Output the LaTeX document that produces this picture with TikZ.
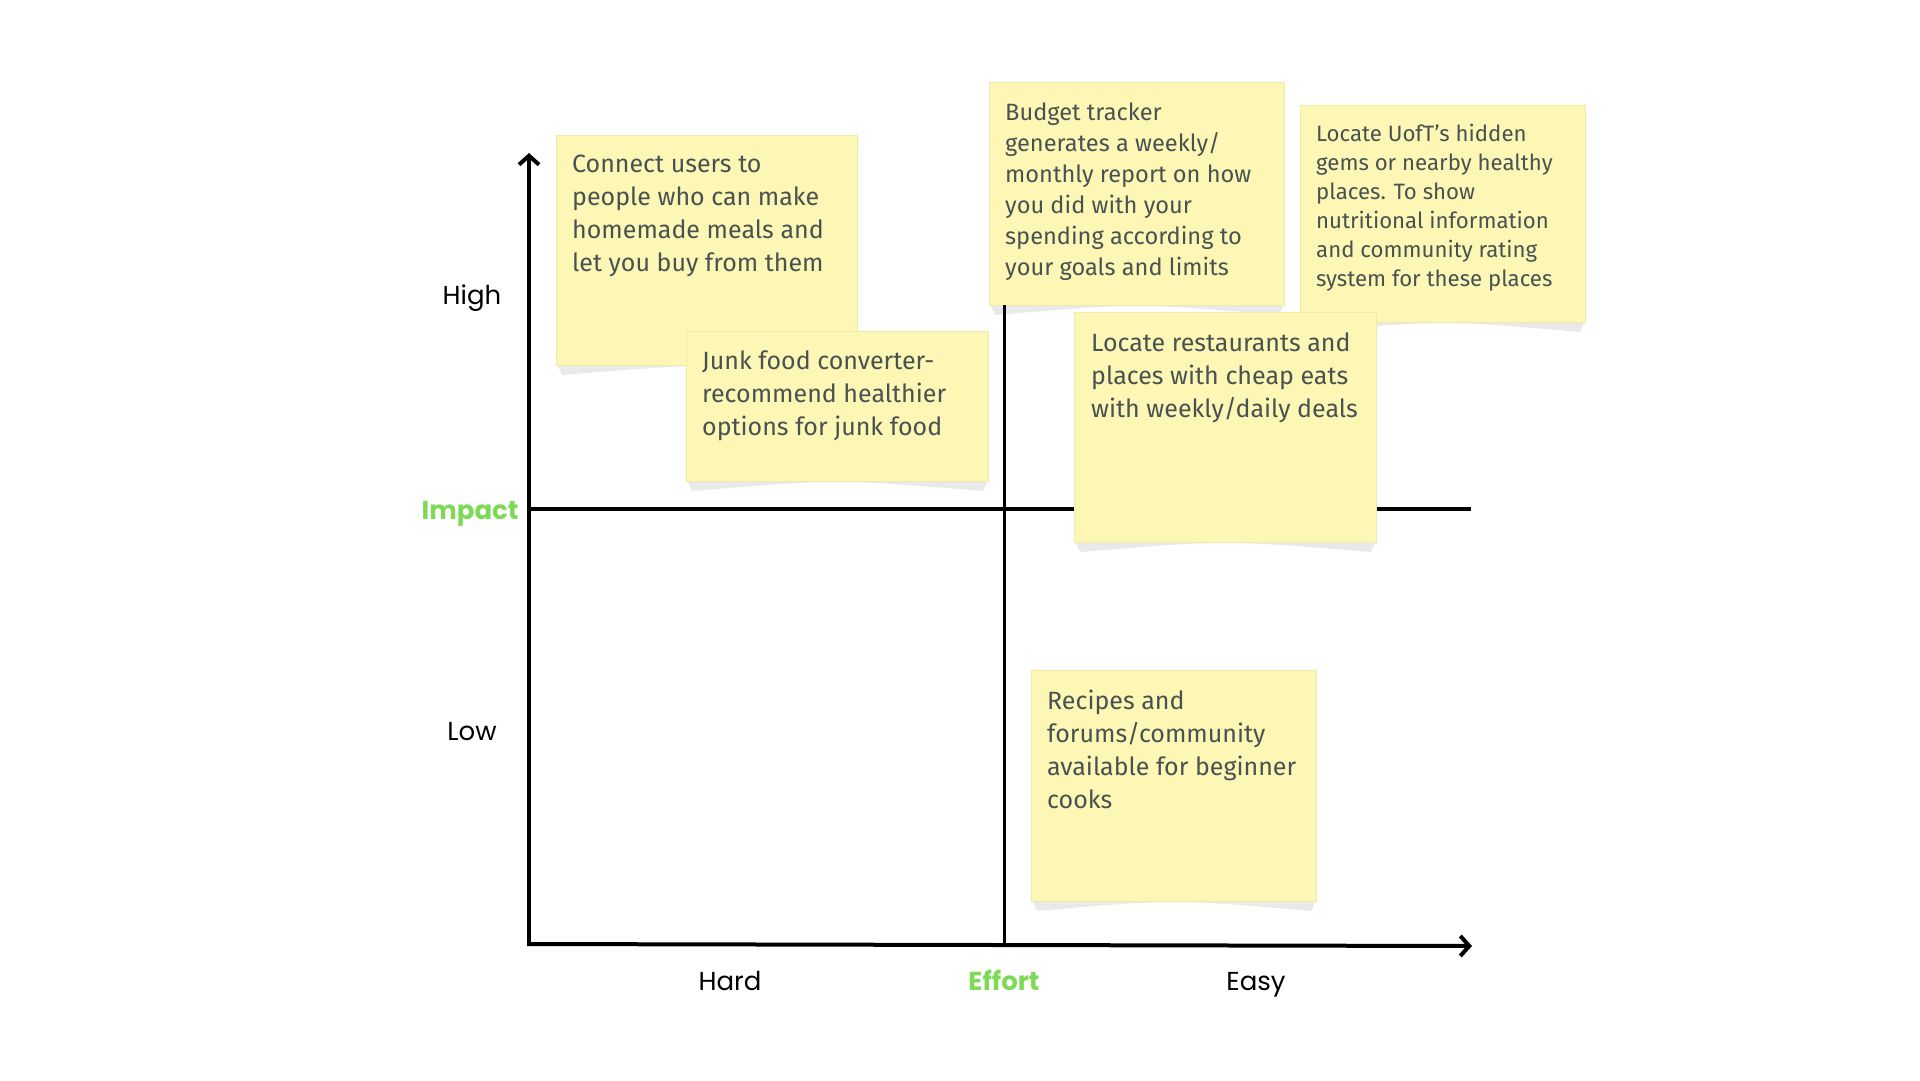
\documentclass[tikz,border=0pt]{standalone}
\usepackage{fontspec}
\setmainfont{Fira Sans}
\newfontfamily\axisfont{Poppins}
\usetikzlibrary{arrows.meta,positioning}

\definecolor{notefill}{HTML}{FCF7B5}
\definecolor{noteedge}{HTML}{F1EAA8}
\definecolor{notetext}{HTML}{4A5151}
\definecolor{effortgreen}{HTML}{7ED957}
\definecolor{curlshade}{HTML}{E9E9E9}

\tikzset{
  sticky/.style={fill=notefill, draw=noteedge, line width=1pt, anchor=north west, inner sep=0pt},
  stickytext/.style={inner sep=0pt, text=notetext, align=left, font=\fontsize{25}{33}\selectfont},
  smalltext/.style={stickytext, font=\fontsize{23.6}{31}\selectfont},
  tinytext/.style={stickytext, font=\fontsize{22.2}{29}\selectfont},
  axisline/.style={line width=4pt},
  axislabel/.style={anchor=base, font=\axisfont\fontsize{26}{30}\selectfont},
  axisname/.style={anchor=base, font=\axisfont\bfseries\fontsize{26}{30}\selectfont, text=effortgreen},
}

% curled shadow under a note
\newcommand\notecurl[1]{%
  \fill[curlshade] ([xshift=2pt]#1.south west) -- ([xshift=-2pt]#1.south east)
    -- ([xshift=-6pt,yshift=-9pt]#1.south east)
    .. controls ([yshift=3pt]#1.south) .. ([xshift=6pt,yshift=-9pt]#1.south west) -- cycle;}

\begin{document}
\begin{tikzpicture}[x=1pt, y=-1pt]
  \useasboundingbox (0,0) rectangle (1920,1080);

  % axes
  \coordinate (origin) at (529,944);
  \coordinate (ytip) at (529,153);
  \coordinate (xtip) at (1472,946);
  \coordinate (impleft) at (529,509);
  \coordinate (impright) at (1471,509);
  \coordinate (efftop) at (1004,305);
  \coordinate (effbottom) at (1004,944);

  \draw[axisline] (impleft) -- (impright);
  \draw[axisline, -{Straight Barb[length=9pt, width=20pt]}] ([yshift=2pt]origin) -- (ytip);
  \draw[axisline, -{Straight Barb[length=9pt, width=20pt]}] ([xshift=-2pt]origin) -- (xtip);

  % labels
  \node[axislabel] (high) at (472,304) {High};
  \node[axislabel] (low) at (472,740) {Low};
  \node[axisname, anchor=base east] (impact) at (522,519) {Impact};
  \node[axislabel] (hard) at (730,990) {Hard};
  \node[axisname] (effort) at (1004,990) {Effort};
  \node[axislabel] (easy) at (1256,990) {Easy};

  % sticky notes
  \node[sticky, minimum width=301pt, minimum height=230pt] (connect) at (556,135) {};
  \notecurl{connect}
  \node[stickytext, below right=20pt and 16pt of connect.north west] (connecttxt)
    {Connect users to\\people who can make\\homemade meals and\\let you buy from them};

  \node[sticky, minimum width=302pt, minimum height=150pt] (junk) at (686,331) {};
  \notecurl{junk}
  \node[stickytext, below right=20pt and 16pt of junk.north west] (junktxt)
    {Junk food converter-\\recommend healthier\\options for junk food};

  \node[sticky, minimum width=295pt, minimum height=223pt] (budget) at (989,82) {};
  \notecurl{budget}
  \node[smalltext, below right=21pt and 16pt of budget.north west] (budgettxt)
    {Budget tracker\\generates a weekly/\\monthly report on how\\you did with your\\spending according to\\your goals and limits};
  \draw[line width=3pt] (efftop) -- (effbottom);

  \node[sticky, minimum width=285pt, minimum height=217pt] (uoft) at (1300,105) {};
  \notecurl{uoft}
  \node[tinytext, below right=19pt and 16pt of uoft.north west] (uofttxt)
    {Locate UofT’s hidden\\gems or nearby healthy\\places. To show\\nutritional information\\and community rating\\system for these places};

  \node[sticky, minimum width=302pt, minimum height=230pt] (cheap) at (1074,312) {};
  \notecurl{cheap}
  \node[stickytext, below right=21pt and 17pt of cheap.north west] (cheaptxt)
    {Locate restaurants and\\places with cheap eats\\with weekly/daily deals};

  \node[sticky, minimum width=285pt, minimum height=231pt] (recipes) at (1031,670) {};
  \notecurl{recipes}
  \node[stickytext, below right=20pt and 16pt of recipes.north west] (recipestxt)
    {Recipes and\\forums/community\\available for beginner\\cooks};
\end{tikzpicture}
\end{document}
